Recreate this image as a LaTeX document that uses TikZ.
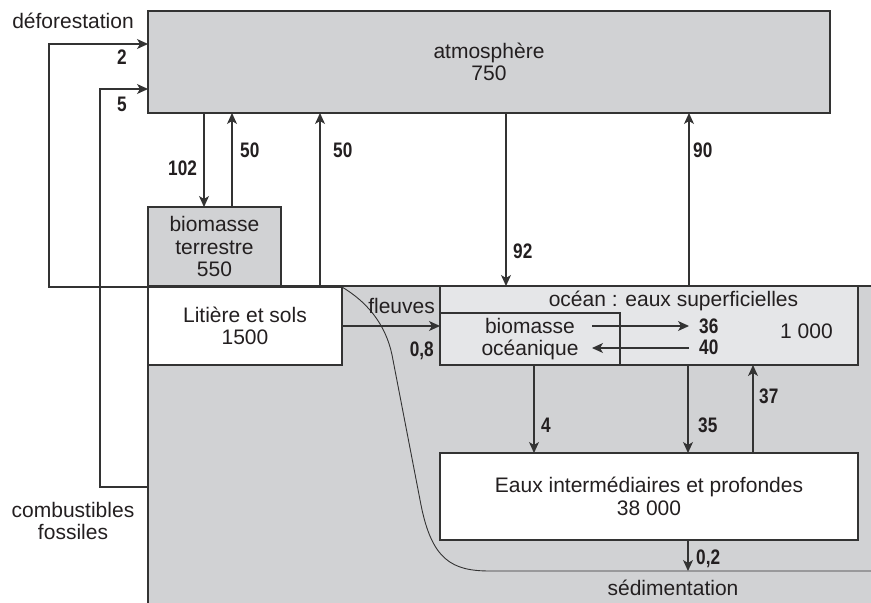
\documentclass[tikz,border=0pt]{standalone}
\usepackage{fontspec}
\setmainfont{Liberation Sans}
\newfontfamily\lblfont{Liberation Sans Bold}[FakeStretch=0.82]
\usetikzlibrary{arrows.meta}
\definecolor{ink}{HTML}{231F20}
\definecolor{lineC}{HTML}{333333}
\definecolor{grayA}{HTML}{D1D2D4}
\definecolor{grayO}{HTML}{E5E6E8}
\begin{document}
\begin{tikzpicture}[x=1pt,y=-1pt,
  box/.style={draw=lineC, line width=1.2pt, inner sep=0pt, outer sep=0pt, rectangle, align=center, text=ink, font=\fontsize{21}{22.5}\selectfont},
  arr/.style={draw=lineC, line width=1.2pt, -{Stealth[length=11pt,width=10pt,inset=3pt]}},
  lbl/.style={inner sep=0pt, anchor=base west, text=ink, font={\lblfont\fontsize{21}{22}\selectfont}},
  txt/.style={inner sep=0pt, align=center, text=ink, font=\fontsize{21}{22.5}\selectfont}]
\useasboundingbox (0,0) rectangle (871,603);
% gray region
\fill[grayA] (148,286) rectangle (871,603);
\draw[lineC, line width=1.2pt] (148,603) -- (148,286) -- (871,286);
% boxes
\node[box, fill=grayA, minimum width=682pt, minimum height=102pt] (atm) at (489,62) {atmosphère\\750};
\node[box, fill=grayA, minimum width=133pt, minimum height=79pt] (bt) at (214.5,246.5) {biomasse\\terrestre\\550};
\node[box, fill=white, minimum width=194pt, minimum height=78pt] (lit) at (245,326) {Litière et sols\\1500};
\node[box, fill=grayO, minimum width=418pt, minimum height=79pt] (oc) at (649,325.5) {};
\node[box, minimum width=180pt, minimum height=52pt] (bo) at (530,339) {biomasse\\océanique};
\node[box, fill=white, minimum width=418pt, minimum height=87pt] (deep) at (649,496.5) {Eaux intermédiaires et profondes\\38 000};
\node[txt, anchor=base] (octitle) at (673.5,306) {océan : eaux superficielles};
\node[txt, anchor=base] (ocval) at (806.5,338) {1 000};
% outside texts
\node[txt, anchor=base] (defo) at (73,28) {déforestation};
\node[txt] (fossil) at (73,521) {combustibles\\fossiles};
\node[txt, anchor=base] (sedi) at (673,595) {sédimentation};
% coordinates
\coordinate (fos) at (148,487);
\coordinate (a36s) at (592,326);
\coordinate (a36e) at (689,326);
\coordinate (a40s) at (689,348);
\coordinate (a40e) at (592,348);
\coordinate (sedend) at (688,571);
% arrows
\draw[arr] (lit.north west) -| (49,44) -- (atm.west |- 0,44);
\draw[arr] (fos) -| (100,89) -- (atm.west |- 0,89);
\draw[arr] (204,0 |- atm.south) -- (204,0 |- bt.north);
\draw[arr] (232,0 |- bt.north) -- (232,0 |- atm.south);
\draw[arr] (320,0 |- lit.north) -- (320,0 |- atm.south);
\draw[arr] (506,0 |- atm.south) -- (506,0 |- oc.north);
\draw[arr] (689,0 |- oc.north) -- (689,0 |- atm.south);
\draw[arr] (lit.east) -- (oc.west |- lit.east);
\draw[arr] (a36s) -- (a36e);
\draw[arr] (a40s) -- (a40e);
\draw[arr] (534,0 |- oc.south) -- (534,0 |- deep.north);
\draw[arr] (688,0 |- oc.south) -- (688,0 |- deep.north);
\draw[arr] (753,0 |- deep.north) -- (753,0 |- oc.south);
\draw[arr] (688,0 |- deep.south) -- (sedend);
% sedimentation curve
\draw[lineC, line width=0.9pt] (lit.north east) .. controls (372,305) and (388,330) .. (393,360) -- (421,505) .. controls (432,560) and (452,571) .. (490,571) -- (871,571);
% labels
\node[lbl] (l2) at (117,64) {2};
\node[lbl] (l5) at (117,111) {5};
\node[lbl] (l102) at (168,175) {102};
\node[lbl] (l50a) at (240,157) {50};
\node[lbl] (l50b) at (333,157) {50};
\node[lbl] (l92) at (513,258) {92};
\node[lbl] (l90) at (693,157) {90};
\node[txt, anchor=base east] (fleu) at (435,313) {fleuves};
\node[lbl, anchor=base east] (l08) at (434,356) {0,8};
\node[lbl] (l36) at (699,333) {36};
\node[lbl] (l40) at (699,354) {40};
\node[lbl] (l4) at (541,432) {4};
\node[lbl] (l35) at (698,432) {35};
\node[lbl] (l37) at (759,403) {37};
\node[lbl] (l02) at (696,564) {0,2};
\end{tikzpicture}
\end{document}
